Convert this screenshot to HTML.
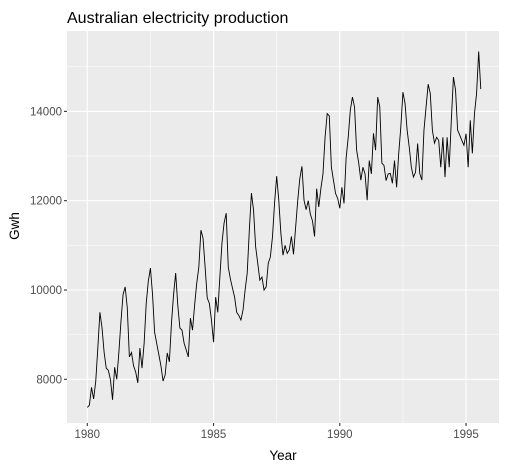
<!DOCTYPE html>
<html><head><meta charset="utf-8">
<style>
body{margin:0;background:#fff;}
svg text{font-family:"Liberation Sans",Arial,sans-serif;}
</style></head>
<body>
<svg id="chart" width="507" height="470" viewBox="0 0 507 470" xmlns="http://www.w3.org/2000/svg">
<rect x="0" y="0" width="507" height="470" fill="#fff"/>
<rect x="67" y="31" width="432" height="392" fill="#ebebeb"/>
<g id="grid"></g>
<path id="line" fill="none" stroke="#000" stroke-width="0.9"/>
<g id="axes"></g>
<text x="67" y="23" font-size="16" fill="#000">Australian electricity production</text>
<text x="283" y="460" font-size="13.5" text-anchor="middle" fill="#000">Year</text>
<text x="19" y="226" font-size="13.5" text-anchor="middle" fill="#000" transform="rotate(-90 19 226)">Gwh</text>
</svg>
<script>
const startYear = 1980;
const values = [
7370,7420,7820,7560,7950,8700,9500,9150,8600,8250,8200,7990,
7540,8270,8000,8600,9300,9900,10070,9600,8500,8600,8300,8160,
7920,8700,8250,8800,9700,10200,10490,9900,9050,8800,8550,8300,
7960,8100,8590,8390,9260,9900,10380,9660,9150,9100,8810,8660,
8500,9370,9100,9660,10150,10510,11340,11160,10510,9820,9700,9330,
8830,9840,9500,10290,11050,11500,11720,10510,10250,10040,9840,9500,
9430,9330,9550,10000,10380,11340,12170,11790,10970,10600,10220,10290,
10000,10070,10600,10740,11190,11950,12550,12010,11270,10780,11000,10820,
10900,11200,10800,11400,12000,12500,12770,12010,11800,12000,11700,11550,
11200,12270,11860,12270,12600,13420,13950,13900,12750,12450,12160,12050,
11830,12300,11940,12950,13420,14030,14320,14100,13130,12840,12460,12750,
12600,12010,12900,12600,13510,13130,14320,14100,12840,12790,12450,12600,
12610,12390,12900,12300,13060,13650,14430,14180,13580,13200,12750,12530,
12640,13280,12610,12460,13580,14100,14610,14400,13580,13290,13420,13350,
12750,13420,12530,13420,12750,13800,14770,14480,13580,13470,13350,13240,
13500,12750,13800,13060,13950,14400,15340,14500
];
const xTicks = [1980,1985,1990,1995];
const yTicks = [8000,10000,12000,14000];
const xMinor = [1982.5,1987.5,1992.5];
const yMinor = [9000,11000,13000,15000];

const P={l:67,r:499,t:31,b:423};
const X=t=>87.3+(t-1980)*25.25;
const Y=v=>379.3-(v-8000)*0.04465;
const NS='http://www.w3.org/2000/svg';
const grid=document.getElementById('grid'), axes=document.getElementById('axes');
function ln(g,x1,y1,x2,y2,c,w){const l=document.createElementNS(NS,'line');
l.setAttribute('x1',x1);l.setAttribute('y1',y1);l.setAttribute('x2',x2);l.setAttribute('y2',y2);
l.setAttribute('stroke',c);l.setAttribute('stroke-width',w);g.appendChild(l);return l;}
yMinor.forEach(v=>{const y=Y(v);if(y>P.t&&y<P.b){const l=ln(grid,P.l,y,P.r,y,'#fff',0.55);

}});
xMinor.forEach(t=>{const x=X(t);if(x>P.l&&x<P.r){const l=ln(grid,x,P.t,x,P.b,'#fff',0.55);

}});
yTicks.forEach(v=>{const y=Y(v);const l=ln(grid,P.l,y,P.r,y,'#fff',1.1);


const k=ln(axes,P.l-3,y,P.l,y,'#333',1.1);


const t=document.createElementNS(NS,'text');t.setAttribute('x',P.l-5);t.setAttribute('y',y+4);
t.setAttribute('text-anchor','end');t.setAttribute('font-size','11.5');t.setAttribute('fill','#4d4d4d');
t.textContent=v;


axes.appendChild(t);});
xTicks.forEach(v=>{const x=X(v);const l=ln(grid,x,P.t,x,P.b,'#fff',1.1);


const k=ln(axes,x,P.b,x,P.b+3,'#333',1.1);


const t=document.createElementNS(NS,'text');t.setAttribute('x',x);t.setAttribute('y',P.b+15);
t.setAttribute('text-anchor','middle');t.setAttribute('font-size','11.5');t.setAttribute('fill','#4d4d4d');
t.textContent=v;


axes.appendChild(t);});
let d='';values.forEach((v,i)=>{d+=(i?'L':'M')+X(startYear+i/12).toFixed(2)+','+Y(v).toFixed(2);});
document.getElementById('line').setAttribute('d',d);
</script>
</body></html>
